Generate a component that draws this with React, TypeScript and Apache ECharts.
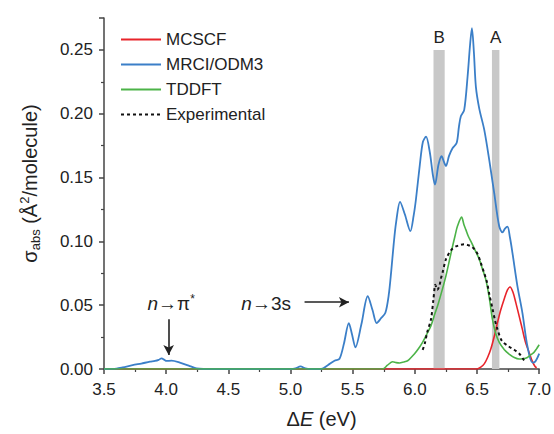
import React, { useEffect, useRef } from "react";
import * as echarts from "echarts";

const seriesNames = ["MCSCF", "MRCI/ODM3", "TDDFT", "Experimental"];

const mcscf: [number, number][] = [
  [3.5, 0], [6.5, 0], [6.53, 0.0015], [6.558, 0.004], [6.585, 0.009], [6.611, 0.0156],
  [6.64, 0.026], [6.665, 0.0365], [6.69, 0.046], [6.718, 0.0547], [6.745, 0.062],
  [6.766, 0.0643], [6.79, 0.06], [6.812, 0.052], [6.84, 0.041], [6.865, 0.031],
  [6.89, 0.021], [6.919, 0.013], [6.945, 0.006], [6.967, 0.002], [6.98, 0.001],
];

const mrci: [number, number][] = [
  [3.5, 0], [3.6, 0.0003], [3.65, 0.0012], [3.73, 0.003], [3.8, 0.0043], [3.87, 0.0057],
  [3.91, 0.0063], [3.94, 0.0072], [3.963, 0.0084], [3.985, 0.0072], [4.003, 0.0063],
  [4.043, 0.0065], [4.11, 0.005], [4.19, 0.0023], [4.244, 0.0004], [4.3, 0], [5.0, 0],
  [5.04, 0.0005], [5.08, 0.002], [5.12, 0.0005], [5.16, 0], [5.247, 0], [5.3, 0.003],
  [5.354, 0.0065], [5.394, 0.008], [5.43, 0.02], [5.469, 0.036], [5.495, 0.027],
  [5.522, 0.017], [5.57, 0.035], [5.621, 0.057], [5.66, 0.046], [5.693, 0.036],
  [5.73, 0.04], [5.763, 0.044], [5.79, 0.058], [5.809, 0.0755], [5.83, 0.098],
  [5.849, 0.1146], [5.881, 0.131], [5.92, 0.121], [5.964, 0.108], [5.99, 0.12],
  [6.009, 0.133], [6.04, 0.16], [6.065, 0.178], [6.09, 0.182], [6.12, 0.17],
  [6.145, 0.152], [6.162, 0.1445], [6.19, 0.16], [6.215, 0.1667], [6.235, 0.162],
  [6.25, 0.159], [6.275, 0.167], [6.303, 0.173], [6.336, 0.177], [6.355, 0.19],
  [6.37, 0.198], [6.397, 0.203], [6.424, 0.229], [6.445, 0.255], [6.459, 0.267],
  [6.475, 0.248], [6.491, 0.221], [6.518, 0.204], [6.558, 0.1875], [6.598, 0.164],
  [6.638, 0.138], [6.678, 0.112], [6.705, 0.107], [6.725, 0.11], [6.745, 0.1115],
  [6.765, 0.103], [6.785, 0.091], [6.825, 0.065], [6.865, 0.044], [6.905, 0.018],
  [6.945, 0.005], [6.97, 0.006], [7.0, 0.012],
];

const tddft: [number, number][] = [
  [3.5, 0], [5.74, 0], [5.78, 0.003], [5.822, 0.0057], [5.85, 0.005], [5.876, 0.0047],
  [5.91, 0.0055], [5.942, 0.0065], [5.97, 0.009], [5.996, 0.0117], [6.03, 0.016],
  [6.063, 0.021], [6.1, 0.028], [6.13, 0.034], [6.16, 0.043], [6.183, 0.0495],
  [6.22, 0.062], [6.25, 0.073], [6.28, 0.086], [6.303, 0.096], [6.325, 0.105],
  [6.343, 0.112], [6.376, 0.119], [6.395, 0.113], [6.411, 0.109], [6.43, 0.104],
  [6.451, 0.1], [6.485, 0.093], [6.518, 0.086], [6.545, 0.078], [6.571, 0.07],
  [6.6, 0.055], [6.624, 0.039], [6.65, 0.028], [6.678, 0.021], [6.72, 0.015],
  [6.758, 0.0117], [6.8, 0.009], [6.838, 0.0078], [6.87, 0.008], [6.905, 0.009],
  [6.93, 0.011], [6.958, 0.013], [6.98, 0.016], [7.0, 0.019],
];

const experimental: [number, number][] = [
  [6.063, 0.015], [6.08, 0.02], [6.1, 0.029], [6.13, 0.039], [6.15, 0.055], [6.165, 0.066],
  [6.18, 0.062], [6.197, 0.065], [6.21, 0.071], [6.223, 0.0755], [6.25, 0.086],
  [6.277, 0.091], [6.3, 0.094], [6.33, 0.096], [6.36, 0.097], [6.397, 0.0977],
  [6.43, 0.097], [6.455, 0.096], [6.478, 0.094], [6.505, 0.09], [6.531, 0.083],
  [6.555, 0.076], [6.58, 0.068], [6.6, 0.058], [6.625, 0.047], [6.645, 0.038],
  [6.665, 0.031], [6.7, 0.022], [6.75, 0.018], [6.8, 0.015], [6.84, 0.012],
  [6.87, 0.008], [6.89, 0.005],
];

// shaded bands: [label, from, to, top]
const bands: [string, number, number, number][] = [
  ["B", 6.15, 6.24, 0.25],
  ["A", 6.62, 6.68, 0.25],
];

// annotation texts: [text, x, y]
const notes: [string, number, number][] = [
  ["{i|n}{t|→π}{s|*}", 4.04, 0.051],
  ["{i|n}{t|→3s}", 4.804, 0.051],
];

// arrows: [x1, y1, x2, y2]
const arrows: [number, number, number, number][] = [
  [4.02, 0.039, 4.02, 0.011],
  [5.113, 0.0523, 5.47, 0.0523],
];

const FONT = 'Arial, "Liberation Sans", Helvetica, sans-serif';
const TXT = "#222";
const AX = "#444";

export default function App() {
  const ref = useRef<HTMLDivElement>(null);
  useEffect(() => {
    if (!ref.current) return;
    const chart = echarts.init(ref.current, null, { renderer: "svg" });
    const noteRich = {
      i: { fontStyle: "italic", fontSize: 19, color: TXT, fontFamily: FONT },
      t: { fontSize: 19, color: TXT, fontFamily: FONT },
      s: { fontSize: 12, color: TXT, fontFamily: FONT, verticalAlign: "top", lineHeight: 22 },
    };
    chart.setOption({
      animation: false,
      textStyle: { fontFamily: FONT },
      grid: { left: 104, right: 14, top: 18, bottom: 64, containLabel: false },
      legend: {
        orient: "vertical",
        left: 115,
        top: 26,
        itemWidth: 40,
        itemHeight: 14,
        itemGap: 8,
        itemStyle: { opacity: 0 },
        textStyle: { fontSize: 17, color: TXT, fontFamily: FONT },
        data: seriesNames,
      },
      xAxis: {
        type: "value",
        min: 3.5,
        max: 7,
        interval: 0.5,
        name: "{d|Δ}{i|E} (eV)",
        nameLocation: "middle",
        nameGap: 40,
        nameTextStyle: {
          fontSize: 20,
          color: TXT,
          fontFamily: FONT,
          rich: {
            d: { fontSize: 20, color: TXT, fontFamily: FONT },
            i: { fontSize: 20, color: TXT, fontStyle: "italic", fontFamily: FONT },
          },
        },
        axisLine: { lineStyle: { color: AX, width: 1.5 } },
        axisTick: { length: 5, lineStyle: { color: AX, width: 1.5 } },
        minorTick: { show: true, splitNumber: 2, length: 3, lineStyle: { color: AX, width: 1.2 } },
        splitLine: { show: false },
        axisLabel: {
          formatter: (v: number) => v.toFixed(1),
          fontSize: 17,
          color: TXT,
          margin: 12,
          fontFamily: FONT,
        },
      },
      yAxis: {
        type: "value",
        min: 0,
        max: 0.275,
        interval: 0.05,
        name: "{g|σ}{sub|abs} {g|(Å}{sup|2}{g|/molecule)}",
        nameLocation: "middle",
        nameGap: 62,
        nameRotate: 90,
        nameTextStyle: {
          fontSize: 20,
          color: TXT,
          fontFamily: FONT,
          padding: [0, 0, 0, 20],
          rich: {
            g: { fontSize: 20, color: TXT, fontFamily: FONT, lineHeight: 24 },
            sub: { fontSize: 13, color: TXT, fontFamily: FONT, verticalAlign: "bottom", lineHeight: 24 },
            sup: { fontSize: 13, color: TXT, fontFamily: FONT, verticalAlign: "top", lineHeight: 24 },
          },
        },
        axisLine: { show: true, lineStyle: { color: AX, width: 1.5 } },
        axisTick: { show: true, length: 5, lineStyle: { color: AX, width: 1.5 } },
        minorTick: { show: true, splitNumber: 2, length: 3, lineStyle: { color: AX, width: 1.2 } },
        splitLine: { show: false },
        axisLabel: {
          formatter: (v: number) => v.toFixed(2),
          fontSize: 17,
          color: TXT,
          margin: 11,
          showMaxLabel: false,
          fontFamily: FONT,
        },
      },
      series: [
        {
          name: "MCSCF",
          type: "line",
          data: mcscf,
          symbol: "none",
          smooth: 0.3,
          lineStyle: { color: "#e8242b", width: 1.6 },
          itemStyle: { color: "#e8242b" },
          z: 3,
        },
        {
          name: "MRCI/ODM3",
          type: "line",
          data: mrci,
          symbol: "none",
          smooth: 0.3,
          lineStyle: { color: "#3b7fc8", width: 1.8 },
          itemStyle: { color: "#3b7fc8" },
          z: 3,
        },
        {
          name: "TDDFT",
          type: "line",
          data: tddft,
          symbol: "none",
          smooth: 0.3,
          lineStyle: { color: "#4cb348", width: 1.6 },
          itemStyle: { color: "#4cb348" },
          z: 3,
        },
        {
          name: "Experimental",
          type: "line",
          data: experimental,
          symbol: "none",
          smooth: 0.3,
          lineStyle: { color: "#111", width: 2, type: [3, 3] },
          itemStyle: { color: "#111" },
          z: 4,
        },
        {
          name: "annotations",
          type: "line",
          data: [],
          symbol: "none",
          z: 1,
          markArea: {
            silent: true,
            itemStyle: { color: "#c8c8c8" },
            label: {
              show: true,
              position: "top",
              distance: 4,
              fontSize: 17,
              color: TXT,
              fontFamily: FONT,
            },
            data: bands.map(([name, a, b, top]) => [
              { name, coord: [a, 0] },
              { coord: [b, top] },
            ]),
          },
          markLine: {
            silent: true,
            symbol: ["none", "arrow"],
            symbolSize: [8, 10],
            lineStyle: { color: "#222", width: 1.6, type: "solid" },
            label: { show: false },
            data: arrows.map(([x1, y1, x2, y2]) => [
              { coord: [x1, y1] },
              { coord: [x2, y2] },
            ]),
          },
          markPoint: {
            silent: true,
            symbol: "rect",
            symbolSize: 0,
            label: {
              show: true,
              position: "inside",
              formatter: (p: any) => p.name,
              rich: noteRich,
            },
            data: notes.map(([text, x, y]) => ({ name: text, coord: [x, y] })),
          },
        },
      ],
    });
    return () => chart.dispose();
  }, []);
  return (
    <div
      ref={ref}
      style={{ position: "absolute", left: 0, top: 0, width: 554, height: 434, background: "#fff" }}
    />
  );
}
